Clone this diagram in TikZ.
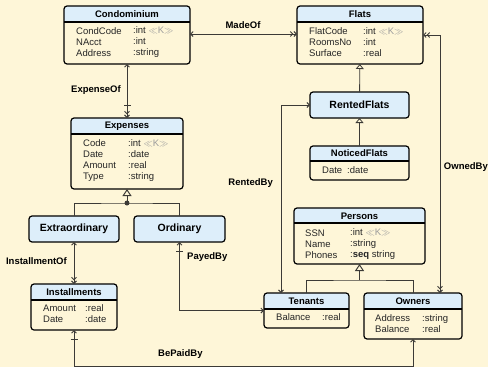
\documentclass[tikz,border=0pt]{standalone}
\usepackage{fontspec}
\setmainfont{Liberation Sans}
\usetikzlibrary{arrows.meta}

\definecolor{bgcol}{HTML}{FEF6D8}
\definecolor{headcol}{HTML}{DDEEFA}
\definecolor{keycol}{HTML}{9C9C9C}
\definecolor{linkcol}{HTML}{3C3A36}

\tikzset{
  box/.style={rectangle, fill=bgcol, inner sep=0pt, outer sep=0pt},
  flatbox/.style={rectangle, draw, fill=headcol, line width=1.2pt, rounded corners=3pt,
    inner sep=0pt, outer sep=0pt, font=\fontsize{10.5}{12}\selectfont\bfseries},
  boxline/.style={line width=1.2pt},
  title/.style={font=\fontsize{9.5}{11}\selectfont\bfseries, inner sep=0pt},
  attr/.style={font=\fontsize{9.5}{11}\selectfont, text=black!85, align=left, anchor=west, inner sep=0pt},
  link/.style={draw=linkcol, line width=0.9pt},
  linklabel/.style={font=\fontsize{9.5}{11}\selectfont\bfseries, inner sep=0pt},
  isa/.style={draw=linkcol, line width=0.8pt, -{Triangle[open, length=5pt, width=8pt]}},
  isathick/.style={draw=linkcol, line width=1pt, -{Triangle[open, length=7pt, width=9pt]}},
}

\newcommand\key{{\color{keycol}$\ll$K$\gg$}}
% header band of a class box
\newcommand\umlhead[2]{%
  \begin{scope}
    \clip[rounded corners=3pt] (#1.south west) rectangle (#1.north east);
    \fill[headcol] (#1.north west) rectangle ([yshift=-#2pt]#1.north east);
  \end{scope}
  \draw[boxline] ([yshift=-#2pt]#1.north west) -- ([yshift=-#2pt]#1.north east);
  \draw[boxline, rounded corners=3pt] (#1.south west) rectangle (#1.north east);
}

\begin{document}
\begin{tikzpicture}[x=1pt, y=-1pt, >={Straight Barb[length=2.5pt, width=5pt]}]
\useasboundingbox[fill=bgcol] (0,0) rectangle (488,367);

% classes
\node[box, minimum width=126, minimum height=58] (cond) at (127,35) {};
\umlhead{cond}{16}
\node[title] (condt) at (127,14) {Condominium};
\node[attr] (condn) at (76,42) {CondCode\\NAcct\\Address};
\node[attr] (condy) at (133,42) {:int \key\\:int\\:string};

\node[box, minimum width=126, minimum height=58] (flats) at (360,35) {};
\umlhead{flats}{16}
\node[title] (flatst) at (360,14) {Flats};
\node[attr] (flatsn) at (309,42) {FlatCode\\RoomsNo\\Surface};
\node[attr] (flatsy) at (363,42) {:int \key\\:int\\:real};

\node[box, minimum width=112, minimum height=71] (exp) at (127,153.5) {};
\umlhead{exp}{16}
\node[title] (expt) at (127,126) {Expenses};
\node[attr] (expn) at (83,161) {Code\\Date\\Amount\\Type};
\node[attr] (expy) at (128,161) {:int \key\\:date\\:real\\:string};

\node[flatbox, minimum width=90, minimum height=26] (extra) at (74,229) {Extraordinary};
\node[flatbox, minimum width=91, minimum height=26] (ord) at (179.5,229) {Ordinary};

\node[box, minimum width=86, minimum height=46] (inst) at (74,307) {};
\umlhead{inst}{16}
\node[title] (instt) at (74,292) {Installments};
\node[attr] (instn) at (43,314) {Amount\\Date};
\node[attr] (insty) at (85,314) {:real\\:date};

\node[flatbox, minimum width=99, minimum height=26] (rented) at (359.5,105) {RentedFlats};

\node[box, minimum width=99, minimum height=34] (noticed) at (359.5,163) {};
\umlhead{noticed}{15}
\node[title] (noticedt) at (359.5,153.5) {NoticedFlats};
\node[attr] (noticedn) at (322,170) {Date};
\node[attr] (noticedy) at (347,170) {:date};

\node[box, minimum width=131, minimum height=56] (persons) at (359.5,236) {};
\umlhead{persons}{15}
\node[title] (personst) at (359.5,216) {Persons};
\node[attr] (personsn) at (305,244) {SSN\\Name\\Phones};
\node[attr] (personsy) at (350,244) {:int \key\\:string\\:\textbf{seq} string};

\node[box, minimum width=85, minimum height=35] (tenants) at (306.5,310.5) {};
\umlhead{tenants}{16}
\node[title] (tenantst) at (306.5,301) {Tenants};
\node[attr] (tenantsn) at (276,317) {Balance};
\node[attr] (tenantsy) at (322,317) {:real};

\node[box, minimum width=98, minimum height=46] (owners) at (413,316) {};
\umlhead{owners}{16}
\node[title] (ownerst) at (413,301) {Owners};
\node[attr] (ownersn) at (375,323.5) {Address\\Balance};
\node[attr] (ownersy) at (422,323.5) {:string\\:real};

% subclasses
\coordinate (expfork) at (127,203);
\draw[link] (extra.north) |- (expfork) -| (ord.north);
\draw[isathick] (expfork) -- (exp.south);
\fill[linkcol] (expfork) circle (2.5pt);

\draw[isa] (rented) -- (flats);
\draw[isa] (noticed) -- (rented);

\coordinate (persfork) at (359.5,280);
\draw[link] (tenants.north) |- (persfork) -| (owners.north);
\draw[isathick] (persfork) -- (persons.south);

% associations
\draw[link, <->>] ([yshift=1pt]cond.east) -- ([yshift=1pt]flats.west);
\node[linklabel] (madeof) at (243,25) {MadeOf};

\draw[link, <-{Bar[width=7pt, sep=5pt]>>}] (cond.south) -- (exp.north);
\node[linklabel, anchor=east] (expenseof) at (121,90) {ExpenseOf};

\draw[link, <->>] (extra.south) -- (inst.north);
\node[linklabel, anchor=east] (installmentof) at (67,261) {InstallmentOf};

\draw[link, <-{Bar[width=7pt, sep=5pt]>}] (tenants.west) -| (ord.south);
\node[linklabel, anchor=west] (payedby) at (187,257) {PayedBy};

\draw[link, <-{Bar[width=7pt, sep=5pt]>}] (owners.south) |- ([yshift=-36pt]inst.south) -- (inst.south);
\node[linklabel, anchor=west] (bepaidby) at (158,354) {BePaidBy};

\draw[link, <->] (rented.west) -| ([xshift=-25.5pt]tenants.north);
\node[linklabel, anchor=east] (rentedby) at (273,183) {RentedBy};

\draw[link, <<->>] (flats.east) -| ([xshift=27pt]owners.north);
\node[linklabel, anchor=east] (ownedby) at (488,167) {OwnedBy};

\end{tikzpicture}
\end{document}
